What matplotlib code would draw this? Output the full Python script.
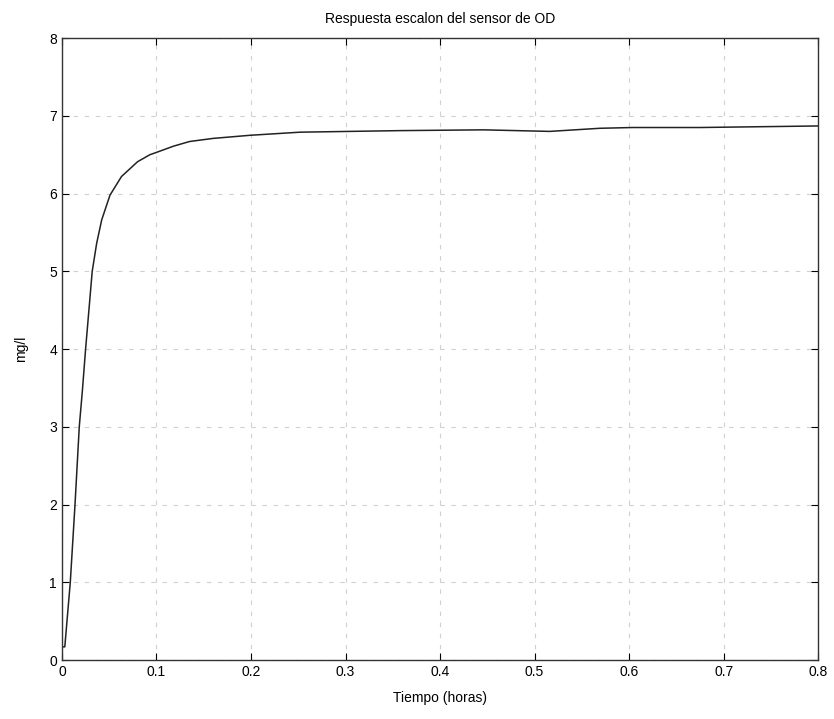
import matplotlib
matplotlib.use("Agg")
import matplotlib.pyplot as plt

# Step response of the DO sensor
tiempo = [0.0, 0.003, 0.0088, 0.0138, 0.0183, 0.0215, 0.025, 0.032, 0.0367,
          0.042, 0.0508, 0.063, 0.080, 0.093, 0.100, 0.118, 0.135, 0.160,
          0.199, 0.252, 0.305, 0.358, 0.446, 0.516, 0.569, 0.604, 0.675, 0.800]
od = [0.17, 0.17, 1.0, 2.0, 3.0, 3.45, 4.0, 5.0, 5.36,
      5.66, 5.98, 6.22, 6.41, 6.50, 6.53, 6.61, 6.67, 6.71,
      6.75, 6.79, 6.80, 6.81, 6.82, 6.80, 6.84, 6.85, 6.85, 6.87]

xticks = [0, 0.1, 0.2, 0.3, 0.4, 0.5, 0.6, 0.7, 0.8]
xtick_labels = ['0', '0.1', '0.2', '0.3', '0.4', '0.5', '0.6', '0.7', '0.8']
yticks = [0, 1, 2, 3, 4, 5, 6, 7, 8]

plt.rcParams['font.family'] = ['Liberation Sans', 'DejaVu Sans']

fig = plt.figure(figsize=(8.34, 7.19), dpi=100)
ax = fig.add_axes([0.0743, 0.082, 0.9067, 0.865])

ax.plot(tiempo, od, color='#222222', linewidth=1.1)

ax.set_xlim(0, 0.8)
ax.set_ylim(0, 8)
ax.set_xticks(xticks)
ax.set_xticklabels(xtick_labels)
ax.set_yticks(yticks)
ax.tick_params(direction='in', top=True, right=True, labelsize=10, length=5)
ax.grid(True, color='#d0d0d0', linestyle=(0, (4, 6)), linewidth=0.8)
for s in ax.spines.values():
    s.set_linewidth(1.0)
    s.set_color('#333333')

ax.set_title('Respuesta escalon del sensor de OD', fontsize=10, pad=11)
ax.set_xlabel('Tiempo (horas)', fontsize=10, labelpad=9)
ax.set_ylabel('mg/l', fontsize=10, labelpad=15)

fig.savefig('out.png', dpi=100)
